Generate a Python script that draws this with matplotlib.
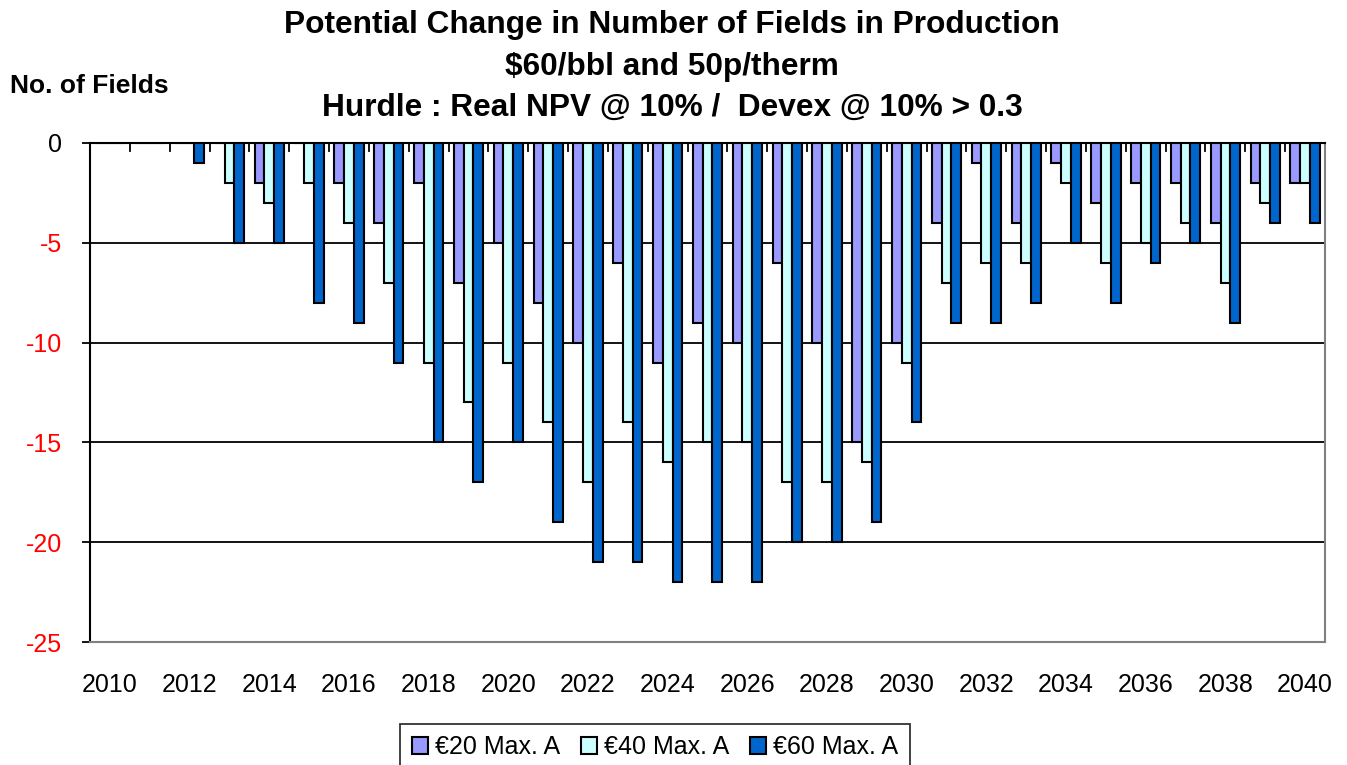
import matplotlib.pyplot as plt
import numpy as np

plt.rcParams['font.family'] = ['Liberation Sans', 'DejaVu Sans']

years = list(range(2010, 2041))
eur20 = [0, 0, 0, 0, -2, 0, -2, -4, -2, -7, -5, -8, -10, -6, -11, -9,
         -10, -6, -10, -15, -10, -4, -1, -4, -1, -3, -2, -2, -4, -2, -2]
eur40 = [0, 0, 0, -2, -3, -2, -4, -7, -11, -13, -11, -14, -17, -14, -16, -15,
         -15, -17, -17, -16, -11, -7, -6, -6, -2, -6, -5, -4, -7, -3, -2]
eur60 = [0, 0, -1, -5, -5, -8, -9, -11, -15, -17, -15, -19, -21, -21, -22, -22,
         -22, -20, -20, -19, -14, -9, -9, -8, -5, -8, -6, -5, -9, -4, -4]
series = ["€20 Max. A", "€40 Max. A", "€60 Max. A"]
colours = ["#9999ff", "#ccffff", "#0066cc"]
yticks = [0, -5, -10, -15, -20, -25]

fig = plt.figure(figsize=(13.47, 7.65), dpi=100)
ax = fig.add_axes([90 / 1347, 1 - 642 / 765, 1235 / 1347, 499 / 765])

x = np.arange(len(years))
w = 0.245
for i, (vals, c, lab) in enumerate(zip([eur20, eur40, eur60], colours, series)):
    ax.bar(x + (i - 1) * w, vals, w, color=c, edgecolor='black', linewidth=1.5,
           label=lab, zorder=3)

ax.set_xlim(-0.5, len(years) - 0.5)
ax.set_ylim(-25, 0)
ax.set_yticks(yticks)
ax.set_yticklabels([str(v) for v in yticks], fontsize=18)
for t, v in zip(ax.get_yticklabels(), yticks):
    t.set_color('black' if v == 0 else 'red')
for v in yticks[1:-1]:
    ax.axhline(v, color='black', linewidth=1.3, zorder=1)

ax.set_xticks(x[::2])
ax.set_xticklabels([str(y) for y in years[::2]], fontsize=18)
ax.tick_params(axis='x', length=0, pad=22)
ax.tick_params(axis='y', length=6, width=1.3, direction='out', pad=14)
# category boundary ticks hanging from the zero line
for b in np.arange(len(years) + 1) - 0.5:
    ax.plot([b, b], [0, -0.4], color='black', linewidth=1.3, zorder=2,
            clip_on=False)

ax.spines['left'].set_color('black')
ax.spines['left'].set_linewidth(1.5)
ax.spines['top'].set_color('black')
ax.spines['top'].set_linewidth(1.5)
ax.spines['bottom'].set_color('#808080')
ax.spines['bottom'].set_linewidth(1.5)
ax.spines['right'].set_color('#808080')
ax.spines['right'].set_linewidth(1.5)

fig.text(0.499, 1 - 25 / 765, "Potential Change in Number of Fields in Production",
         ha='center', va='center', fontsize=22.8, fontweight='bold')
fig.text(0.499, 1 - 67 / 765, "$60/bbl and 50p/therm",
         ha='center', va='center', fontsize=22.8, fontweight='bold')
fig.text(0.499, 1 - 108 / 765, "Hurdle : Real NPV @ 10% /  Devex @ 10% > 0.3",
         ha='center', va='center', fontsize=22.8, fontweight='bold')
fig.text(10 / 1347, 1 - 86 / 765, "No. of Fields", ha='left', va='center',
         fontsize=19, fontweight='bold')

leg = fig.legend(loc='center', bbox_to_anchor=(655 / 1347, 1 - 747 / 765),
                 ncol=3, fontsize=18, frameon=True, fancybox=False,
                 handlelength=0.65, handleheight=0.65, handletextpad=0.3,
                 columnspacing=0.8, borderpad=0.45)
leg.get_frame().set_edgecolor('black')
leg.get_frame().set_linewidth(1.3)

fig.savefig('out.png', dpi=100)
